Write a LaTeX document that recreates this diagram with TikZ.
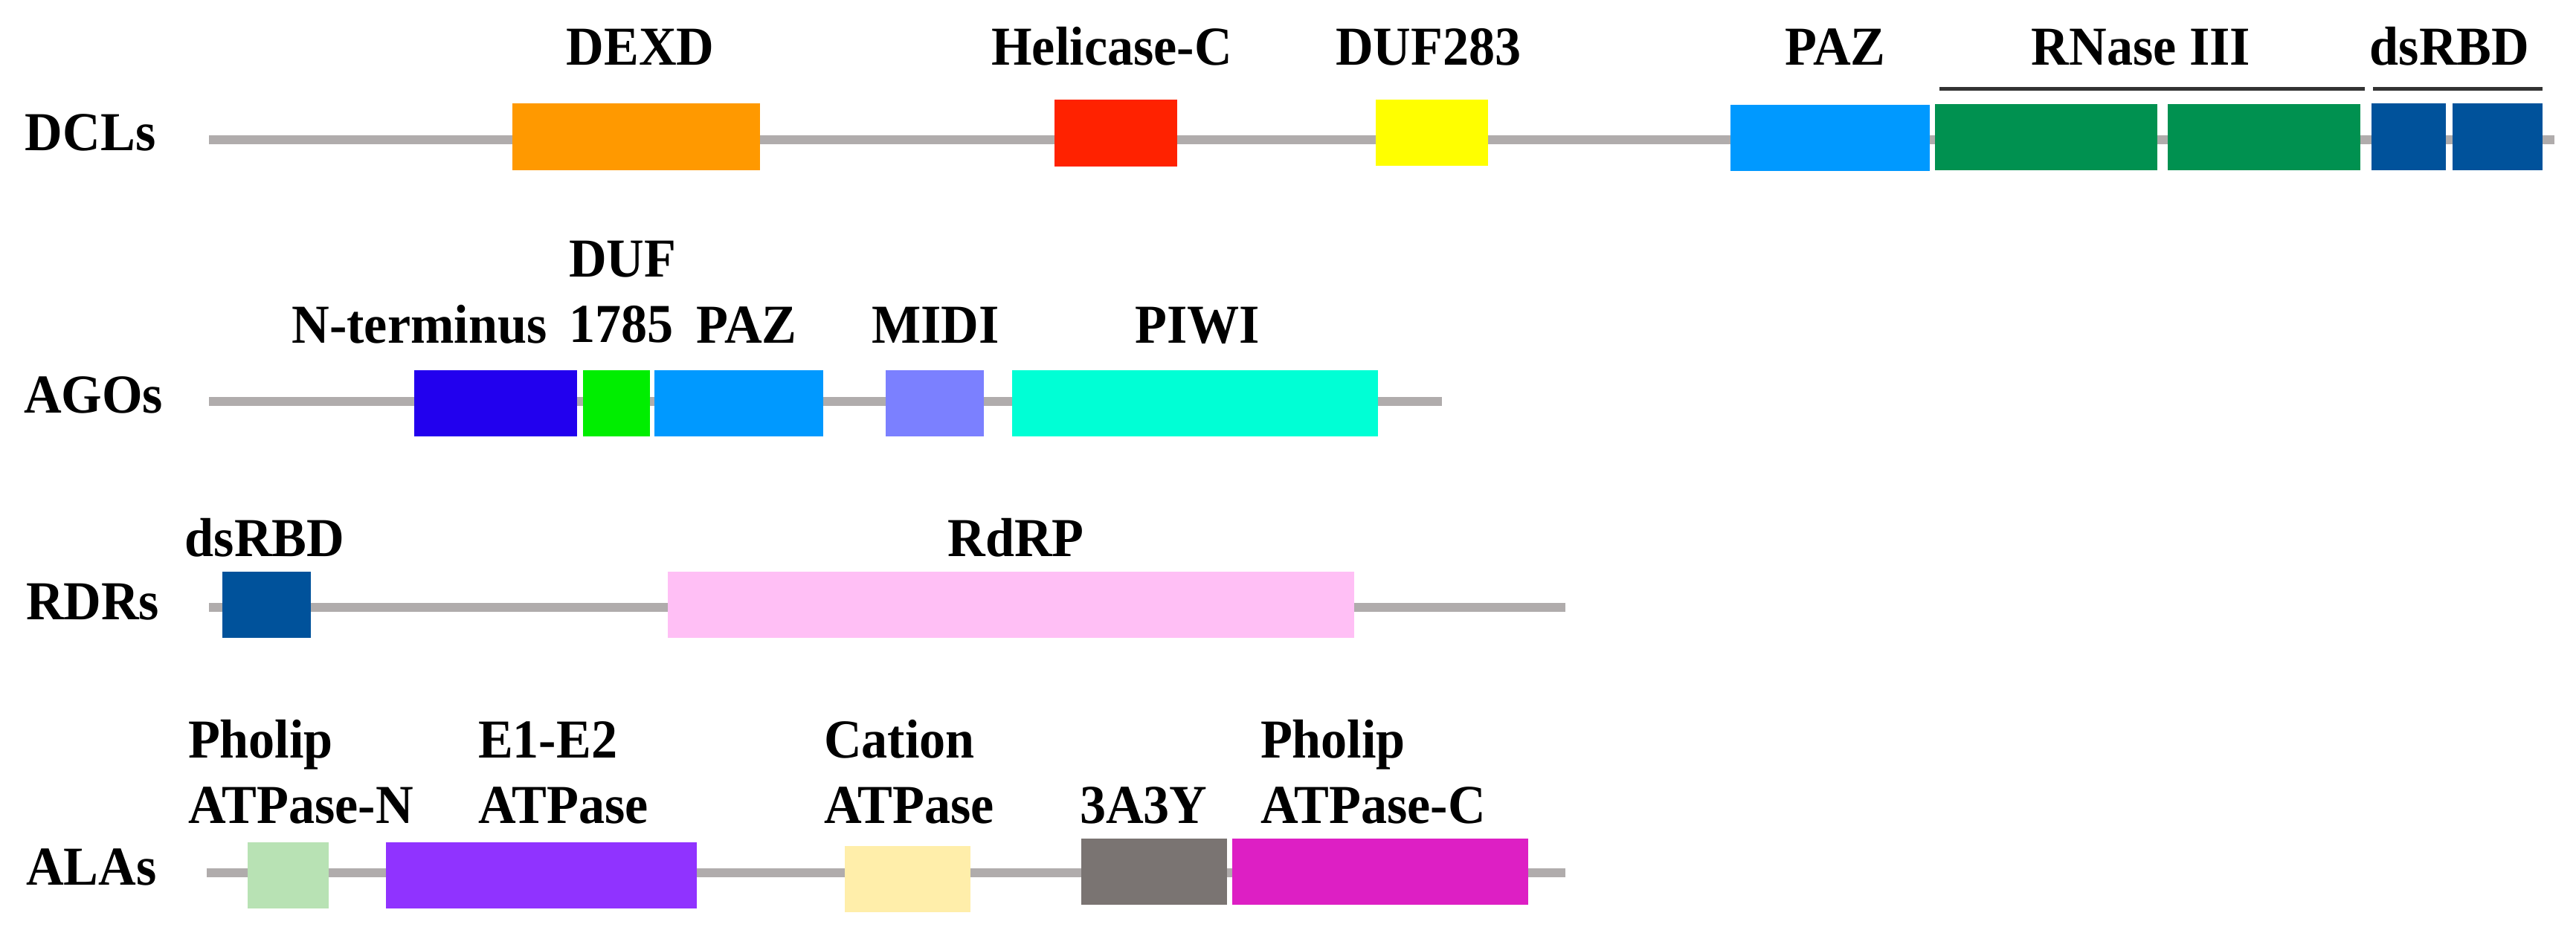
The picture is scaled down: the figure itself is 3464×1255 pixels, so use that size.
\documentclass[tikz,border=0pt]{standalone}
\usepackage{fontspec}
\newfontfamily\labfont[FakeStretch=0.95]{Liberation Serif}
\definecolor{cBack}{HTML}{B0ACAC}
\definecolor{cBar}{HTML}{333333}
\definecolor{cDEXD}{HTML}{FF9900}
\definecolor{cHel}{HTML}{FF2200}
\definecolor{cDUF}{HTML}{FFFF00}
\definecolor{cPAZ}{HTML}{0099FF}
\definecolor{cRNase}{HTML}{009150}
\definecolor{cdsRBD}{HTML}{00529B}
\definecolor{cNterm}{HTML}{2200EE}
\definecolor{cDUFa}{HTML}{00EE00}
\definecolor{cMIDI}{HTML}{7B80FF}
\definecolor{cPIWI}{HTML}{00FFD5}
\definecolor{cRdRP}{HTML}{FFBFF5}
\definecolor{cPholN}{HTML}{B8E2B4}
\definecolor{cEone}{HTML}{9033FF}
\definecolor{cCation}{HTML}{FFEEAA}
\definecolor{cTAY}{HTML}{7A7472}
\definecolor{cPholC}{HTML}{DD1FC4}
\begin{document}
\begin{tikzpicture}[x=0.01cm, y=-0.01cm,
      every node/.style = {inner sep=0, outer sep=0},
      lab/.style = {font=\labfont\bfseries\fontsize{21}{25}\selectfont, anchor=base},
      labl/.style = {lab, anchor=base west, align=left},
      dom/.style = {rectangle, fill=#1, minimum height=0.89cm},
      backbone/.style = {draw=cBack, line width=0.12cm},
      bar/.style = {draw=cBar, line width=0.05cm}
      ]
      \useasboundingbox (0,0) rectangle (3464,1255);

      \node[lab, anchor=base west] (dcls) at (34,203) {DCLs};
      \coordinate (dcl-s) at (281,188);
      \coordinate (dcl-e) at (3435,188);
      \draw[backbone] (dcl-s) -- (dcl-e);
      \node[dom=cDEXD, minimum width=3.33cm] (dexd) at (855.5,184) {};
      \node[dom=cHel, minimum width=1.65cm] (hel) at (1500.5,179) {};
      \node[dom=cDUF, minimum width=1.51cm] (duf) at (1925.5,178.5) {};
      \node[dom=cPAZ, minimum width=2.68cm] (paz) at (2461,185.5) {};
      \node[dom=cRNase, minimum width=2.99cm] (rn1) at (2751.5,184.5) {};
      \node[dom=cRNase, minimum width=2.59cm] (rn2) at (3044.5,184.5) {};
      \node[dom=cdsRBD, minimum width=1.00cm] (ds1) at (3239,184) {};
      \node[dom=cdsRBD, minimum width=1.21cm] (ds2) at (3358.5,184) {};
      \coordinate (rn-l) at (2608,120);
      \coordinate (rn-r) at (3180,120);
      \coordinate (ds-l) at (3191,120);
      \coordinate (ds-r) at (3419,120);
      \draw[bar] (rn-l) -- (rn-r);
      \draw[bar] (ds-l) -- (ds-r);
      \node[lab] (dexd-t) at (861,88) {DEXD};
      \node[lab] (hel-t) at (1495,88) {Helicase-C};
      \node[lab] (duf-t) at (1921,88) {DUF283};
      \node[lab] (paz-t) at (2468,88) {PAZ};
      \node[lab] (rn-t) at (2879,88) {RNase III};
      \node[lab] (ds-t) at (3294,88) {dsRBD};

      \node[lab, anchor=base west] (agos) at (32,555) {AGOs};
      \coordinate (ago-s) at (281,540);
      \coordinate (ago-e) at (1939,540);
      \draw[backbone] (ago-s) -- (ago-e);
      \node[dom=cNterm, minimum width=2.19cm] (nterm) at (666.5,542.5) {};
      \node[dom=cDUFa, minimum width=0.90cm] (dufa) at (829,542.5) {};
      \node[dom=cPAZ, minimum width=2.27cm] (paza) at (993.5,542.5) {};
      \node[dom=cMIDI, minimum width=1.32cm] (midi) at (1257,542.5) {};
      \node[dom=cPIWI, minimum width=4.92cm] (piwi) at (1607,542.5) {};
      \node[lab] (nterm-t) at (564,462) {N-terminus};
      \node[labl] (dufa-t) at (765,460) {DUF\\1785};
      \node[lab] (paza-t) at (1004,462) {PAZ};
      \node[lab] (midi-t) at (1258,462) {MIDI};
      \node[lab] (piwi-t) at (1610,462) {PIWI};

      \node[lab, anchor=base west] (rdrs) at (35,833) {RDRs};
      \coordinate (rdr-s) at (281,817);
      \coordinate (rdr-e) at (2105,817);
      \draw[backbone] (rdr-s) -- (rdr-e);
      \node[dom=cdsRBD, minimum width=1.19cm] (dsr) at (358.5,813.5) {};
      \node[dom=cRdRP, minimum width=9.23cm] (rdrp) at (1359.5,813.5) {};
      \node[lab] (dsr-t) at (356,748) {dsRBD};
      \node[lab] (rdrp-t) at (1366,748) {RdRP};

      \node[lab, anchor=base west] (alas) at (35,1190) {ALAs};
      \coordinate (ala-s) at (278,1174);
      \coordinate (ala-e) at (2105,1174);
      \draw[backbone] (ala-s) -- (ala-e);
      \node[dom=cPholN, minimum width=1.09cm] (pholn) at (387.5,1177.5) {};
      \node[dom=cEone, minimum width=4.18cm] (eone) at (728,1177.5) {};
      \node[dom=cCation, minimum width=1.69cm] (cation) at (1220.5,1182.5) {};
      \node[dom=cTAY, minimum width=1.96cm] (tay) at (1552,1172.5) {};
      \node[dom=cPholC, minimum width=3.98cm] (pholc) at (1856,1172.5) {};
      \node[labl] (pholn-t) at (253,1107) {Pholip\\ATPase-N};
      \node[labl] (eone-t) at (643,1107) {E1-E2\\ATPase};
      \node[labl] (cation-t) at (1108,1107) {Cation\\ATPase};
      \node[labl] (tay-t) at (1452,1107) {3A3Y};
      \node[labl] (pholc-t) at (1695,1107) {Pholip\\ATPase-C};
\end{tikzpicture}
\end{document}
